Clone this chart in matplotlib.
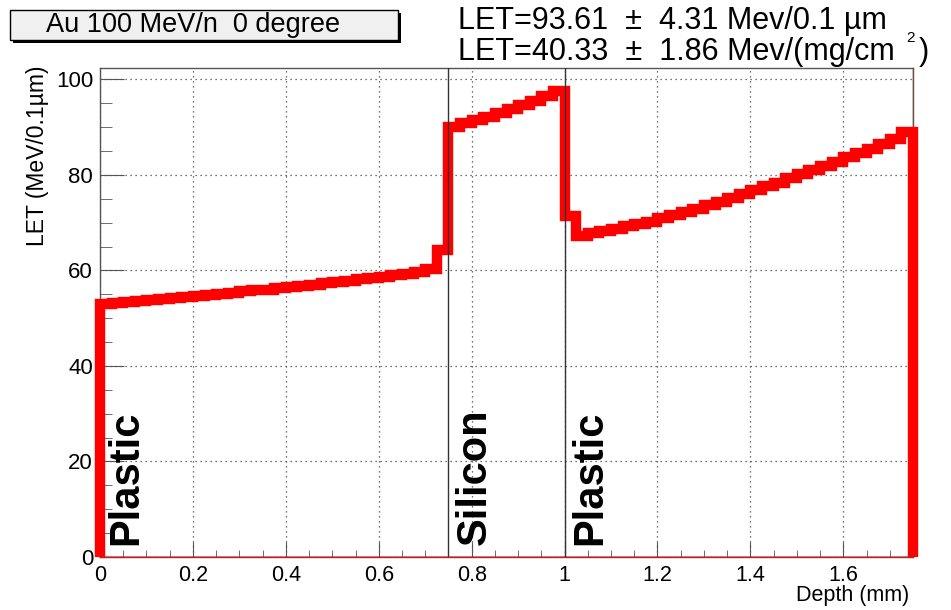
import numpy as np
import matplotlib.pyplot as plt
from matplotlib.patches import Rectangle

plt.rcParams['font.family'] = ['Liberation Sans', 'DejaVu Sans']

# LET (MeV/0.1um) per 0.025 mm depth bin
plastic1_let = [53.0, 53.2, 53.4, 53.6, 53.8, 54.0, 54.2, 54.5, 54.7, 54.9,
                55.1, 55.3, 55.6, 55.8, 56.0, 56.3, 56.5, 56.8, 57.0, 57.3,
                57.6, 57.8, 58.1, 58.4, 58.7, 59.0, 59.3, 59.7, 60.2, 64.3]
silicon_let = [90.0, 90.8, 91.5, 92.2, 93.0, 93.8, 94.6, 95.5, 96.5, 97.5]
plastic2_let = [71.3, 67.3, 67.8, 68.2, 68.7, 69.2, 69.7, 70.2, 70.9, 71.5,
                72.2, 72.9, 73.6, 74.3, 75.1, 75.9, 76.8, 77.6, 78.4, 79.3,
                80.1, 81.0, 81.9, 82.8, 83.7, 84.6, 85.5, 86.4, 87.5, 88.9]

layer_names = ['Plastic', 'Silicon', 'Plastic']
layer_starts = [0.0, 0.75, 1.0]
depth_max = 1.75

title = 'Au 100 MeV/n  0 degree'
let_line1 = 'LET=93.61  \u00b1  4.31 Mev/0.1 \u00b5m'
let_line2 = 'LET=40.33  \u00b1  1.86 Mev/(mg/cm'

let_vals = np.array(plastic1_let + silicon_let + plastic2_let)
edges = np.linspace(0, depth_max, len(let_vals) + 1)
y_top = 1.05 * let_vals.max()

fig = plt.figure(figsize=(9.51, 6.10), dpi=100)
ax = fig.add_axes([100/951, 1 - 557/610, 813/951, 489/610])

ax.stairs(let_vals, edges, baseline=0, color='#ff0000', lw=7.5,
          joinstyle='miter', capstyle='butt', zorder=3, clip_on=False)
ax.plot([0, depth_max], [0, 0], color='#ff0000', lw=1.2, alpha=0.6, zorder=3, clip_on=False)
ax.plot([depth_max, depth_max], [let_vals[-1], y_top], color='#ff0000', lw=1, zorder=3)

for x0, name in zip(layer_starts, layer_names):
    if x0 > 0:
        ax.axvline(x0, color='#333333', lw=1, zorder=4)
    ax.text(x0 + 0.013, 2.5, name, rotation=90, ha='left', va='bottom',
            fontsize=30, fontweight='bold', zorder=5)

ax.set_xlim(0, depth_max)
ax.set_ylim(0, y_top)
ax.set_xticks(np.arange(0, 1.61, 0.2))
ax.set_xticklabels([f'{v:g}' for v in np.arange(0, 1.61, 0.2)])
ax.set_xticks(np.arange(0, depth_max, 0.05), minor=True)
ax.set_yticks(np.arange(0, 101, 20))
ax.set_yticks(np.arange(0, 101, 5), minor=True)

ax.grid(True, which='major', ls=(0, (1, 3)), color='#444444', lw=0.9)
ax.tick_params(axis='both', which='both', direction='in', color='#555555',
               labelsize=16, top=False, right=False)
ax.tick_params(axis='x', which='major', length=10.8, pad=6, labelsize=15.5)
ax.tick_params(axis='x', which='minor', length=5.4)
ax.tick_params(axis='y', which='major', length=17, pad=5)
ax.tick_params(axis='y', which='minor', length=8.6)
for sp in ax.spines.values():
    sp.set_color('#555555')
    sp.set_linewidth(1)

ax.set_xlabel('Depth (mm)', fontsize=15.5, loc='right')
ax.xaxis.set_label_coords(0.996, -0.058)
ax.set_ylabel('LET (MeV/0.1\u00b5m)', fontsize=16.5, loc='top')
ax.yaxis.set_label_coords(-0.063, 1.006)

# title pave with shadow
fig.patches.append(Rectangle((13/951, 1 - 43/610), 388/951, 30/610,
                             transform=fig.transFigure, facecolor='black', edgecolor='none'))
fig.patches.append(Rectangle((10/951, 1 - 40/610), 388/951, 30/610,
                             transform=fig.transFigure, facecolor='#f0f0f0',
                             edgecolor='black', lw=1))
fig.text(193/951, 1 - 25/610, title, ha='center', va='center', fontsize=19.5)

fig.text(458/951, 1 - 21/610, let_line1, ha='left', va='center', fontsize=22)
t2 = fig.text(458/951, 1 - 52/610, let_line2, ha='left', va='center', fontsize=22)
ax.annotate('2', xy=(1, 1), xycoords=t2, xytext=(8, -1), textcoords='offset points',
            ha='left', va='center', fontsize=11, annotation_clip=False)
ax.annotate(')', xy=(1, 0), xycoords=t2, xytext=(17, 0), textcoords='offset points',
            ha='left', va='bottom', fontsize=22, annotation_clip=False)

fig.savefig('out.png', dpi=100)
